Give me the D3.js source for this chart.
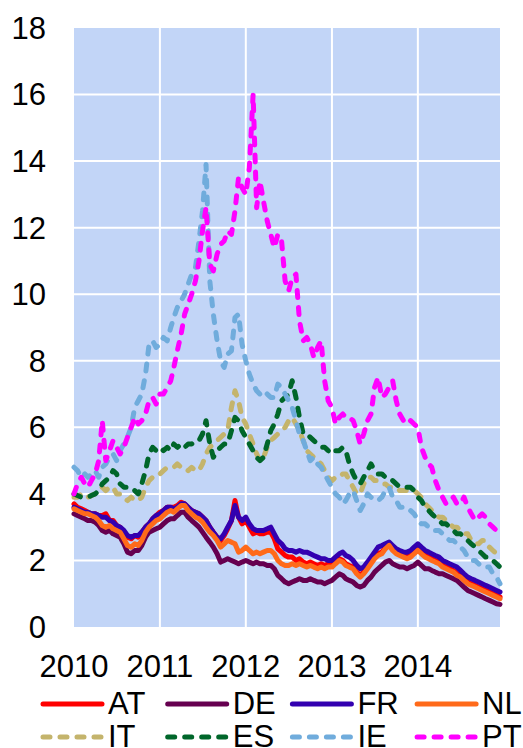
<!DOCTYPE html>
<meta charset="utf-8">
<style>
body { margin: 0; background: #fff; }
text { font-family: "Liberation Sans", Arial, sans-serif; font-size: 31px; fill: #000; }
.grid line { stroke: #fff; stroke-width: 2; }
.series { fill: none; stroke-width: 5; stroke-linejoin: round; stroke-linecap: round; }
</style>
<svg width="523" height="748"></svg>
<script src="https://d3js.org/d3.v7.min.js"></script>
<script>

// semi-monthly observation dates, 1st and 16th of each month, Jan 2010 .. Dec 2014
var dates = [];
for (var yr = 2010; yr <= 2014; yr++) {
  for (var mo = 0; mo < 12; mo++) {
    dates.push(new Date(yr, mo, 1));
    dates.push(new Date(yr, mo, 16));
  }
}

var countries = ["AT", "DE", "FR", "NL", "IT", "ES", "IE", "PT"];
var yearLabels = ["2010", "2011", "2012", "2013", "2014"];
var yTicks = [0, 2, 4, 6, 8, 10, 12, 14, 16, 18];

var AT = [3.7,3.6,3.55,3.5,3.45,3.4,3.4,3.35,3.35,3.4,3.2,3.2,3.05,3.0,2.85,2.7,2.65,2.75,2.7,2.85,
  3.0,3.1,3.25,3.35,3.45,3.5,3.6,3.6,3.6,3.65,3.75,3.7,3.6,3.5,3.45,3.4,3.3,3.2,3.0,2.85,
  2.7,2.6,2.75,2.95,3.2,3.8,3.3,3.1,3.2,3.0,2.8,2.85,2.8,2.8,2.85,2.85,2.65,2.35,2.25,2.15,
  2.1,2.1,2.0,2.05,1.95,1.9,1.95,1.9,1.85,1.9,1.85,1.9,1.85,1.95,2.05,2.0,1.9,1.85,1.8,1.65,
  1.55,1.65,1.8,1.95,2.1,2.2,2.25,2.4,2.5,2.35,2.25,2.2,2.15,2.1,2.15,2.25,2.35,2.25,2.15,2.1,
  2.05,2.0,1.95,1.85,1.8,1.75,1.7,1.6,1.55,1.45,1.35,1.3,1.25,1.2,1.15,1.1,1.05,1.0,0.95,0.9];

var DE = [3.4,3.35,3.3,3.25,3.2,3.2,3.15,3.05,2.9,2.85,2.9,2.8,2.75,2.7,2.5,2.25,2.2,2.3,2.3,2.45,
  2.7,2.85,2.9,2.95,3.0,3.1,3.2,3.25,3.25,3.35,3.45,3.45,3.3,3.2,3.1,3.0,2.85,2.7,2.55,2.4,
  2.2,1.95,2.0,2.05,2.0,1.95,1.9,1.95,2.0,1.95,1.9,1.95,1.9,1.9,1.85,1.85,1.75,1.55,1.45,1.35,
  1.3,1.35,1.4,1.45,1.4,1.4,1.45,1.4,1.35,1.35,1.3,1.35,1.4,1.5,1.6,1.55,1.45,1.4,1.35,1.25,
  1.2,1.25,1.4,1.5,1.65,1.75,1.85,1.95,2.0,1.9,1.85,1.8,1.8,1.75,1.8,1.85,1.95,1.85,1.75,1.75,
  1.7,1.65,1.6,1.6,1.55,1.5,1.45,1.4,1.3,1.2,1.1,1.05,1.0,0.95,0.9,0.85,0.8,0.75,0.7,0.68];

var FR = [3.6,3.55,3.5,3.45,3.45,3.4,3.4,3.35,3.3,3.3,3.2,3.15,3.05,3.0,2.9,2.75,2.7,2.75,2.75,2.85,
  3.0,3.1,3.25,3.35,3.4,3.5,3.6,3.6,3.55,3.6,3.7,3.7,3.6,3.5,3.45,3.4,3.3,3.2,3.0,2.85,
  2.7,2.65,2.8,3.0,3.2,3.65,3.3,3.2,3.3,3.1,2.95,2.9,2.9,2.9,2.95,3.0,2.8,2.6,2.5,2.35,
  2.3,2.3,2.25,2.3,2.25,2.25,2.2,2.15,2.1,2.05,2.05,2.0,2.0,2.1,2.2,2.25,2.15,2.1,2.0,1.85,
  1.75,1.8,1.95,2.1,2.25,2.4,2.45,2.5,2.55,2.45,2.35,2.3,2.25,2.25,2.3,2.4,2.5,2.4,2.3,2.25,
  2.2,2.15,2.1,2.0,1.95,1.9,1.85,1.8,1.7,1.6,1.5,1.45,1.4,1.35,1.3,1.25,1.2,1.15,1.1,1.05];

var NL = [3.55,3.5,3.45,3.4,3.4,3.35,3.3,3.2,3.05,3.0,3.05,2.95,2.9,2.85,2.65,2.45,2.4,2.5,2.45,2.6,
  2.85,3.0,3.1,3.2,3.25,3.35,3.45,3.5,3.45,3.55,3.65,3.65,3.5,3.4,3.3,3.25,3.15,3.0,2.85,2.75,
  2.6,2.4,2.5,2.6,2.55,2.5,2.25,2.3,2.4,2.3,2.2,2.25,2.2,2.25,2.3,2.3,2.2,2.0,1.9,1.85,
  1.85,1.9,1.85,1.9,1.85,1.8,1.85,1.8,1.75,1.8,1.75,1.8,1.8,1.9,2.0,1.95,1.85,1.8,1.75,1.6,
  1.5,1.6,1.75,1.9,2.05,2.15,2.2,2.35,2.45,2.3,2.2,2.15,2.1,2.05,2.1,2.2,2.3,2.2,2.1,2.05,
  2.0,1.95,1.9,1.8,1.75,1.7,1.65,1.55,1.5,1.4,1.3,1.25,1.2,1.15,1.1,1.05,1.0,0.95,0.9,0.85];

var IT = [3.9,3.9,4.0,3.9,3.9,3.95,4.0,4.1,4.2,4.1,4.2,4.2,4.0,4.0,3.9,3.8,3.9,3.8,3.8,3.9,
  4.2,4.4,4.5,4.6,4.6,4.7,4.8,4.8,4.8,4.9,4.8,4.8,4.7,4.8,4.7,4.7,4.9,5.2,5.4,5.5,
  5.6,5.7,5.8,5.9,6.6,7.1,6.8,6.3,6.1,5.8,5.5,5.2,5.0,5.1,5.4,5.6,5.7,5.8,5.9,6.0,
  6.2,6.3,6.1,5.9,5.6,5.3,5.2,5.1,5.0,4.9,4.7,4.5,4.4,4.5,4.5,4.6,4.6,4.4,4.2,4.0,
  4.0,4.3,4.5,4.5,4.4,4.4,4.3,4.3,4.2,4.2,4.2,4.1,4.1,4.1,4.1,4.1,4.0,3.9,3.7,3.6,
  3.5,3.4,3.3,3.3,3.2,3.1,3.0,3.0,2.9,2.8,2.8,2.6,2.5,2.5,2.6,2.6,2.4,2.3,2.2,2.1];

var ES = [4.0,3.95,3.9,3.9,3.9,3.95,4.0,4.1,4.3,4.4,4.5,4.7,4.6,4.3,4.2,4.2,4.1,4.1,4.0,4.3,
  4.7,5.2,5.4,5.3,5.4,5.3,5.4,5.3,5.5,5.4,5.5,5.4,5.5,5.5,5.6,5.6,5.8,6.2,5.5,5.1,
  5.3,5.4,5.5,5.5,5.9,6.3,6.2,5.9,5.7,5.5,5.3,5.1,5.0,5.1,5.5,5.9,6.1,6.4,6.8,6.9,
  7.0,7.4,6.9,6.3,5.8,5.8,5.7,5.6,5.5,5.4,5.4,5.3,5.2,5.3,5.3,5.4,5.3,4.9,4.6,4.4,
  4.3,4.5,4.7,4.9,4.7,4.6,4.6,4.5,4.5,4.4,4.3,4.2,4.2,4.2,4.2,4.1,3.9,3.8,3.6,3.5,
  3.4,3.3,3.2,3.1,3.1,3.0,2.9,2.8,2.8,2.7,2.6,2.5,2.4,2.3,2.2,2.1,2.1,2.0,1.9,1.8];

var IE = [4.8,4.7,4.5,4.6,4.5,4.6,4.7,4.5,4.8,4.9,5.1,5.2,5.0,5.3,5.5,5.7,6.0,6.6,6.8,7.0,
  7.6,8.5,8.6,8.4,8.5,8.7,8.6,9.0,9.3,9.6,9.8,10.0,10.3,10.6,10.8,11.6,12.5,13.9,10.4,9.4,
  8.6,8.0,7.8,8.2,8.3,9.3,9.4,8.5,8.0,7.6,7.3,7.1,7.0,7.1,7.0,6.9,6.9,7.3,7.2,7.0,
  6.8,6.6,6.2,5.8,5.6,5.3,5.0,5.1,4.9,4.8,4.6,4.4,4.2,4.0,3.9,3.7,3.8,4.0,4.1,3.8,
  3.5,3.7,4.0,3.9,3.8,3.8,3.9,4.1,4.2,3.9,3.8,3.6,3.6,3.5,3.5,3.4,3.2,3.1,3.1,3.0,
  3.0,2.9,2.9,2.8,2.7,2.6,2.6,2.5,2.4,2.3,2.1,2.0,2.0,1.9,1.8,1.8,1.8,1.6,1.5,1.3];

var PT = [4.0,4.3,4.5,4.3,4.2,4.4,4.6,5.0,6.2,5.0,5.3,5.6,5.4,5.2,5.4,5.7,6.0,6.3,6.1,6.2,
  6.4,6.8,6.9,6.7,7.0,7.0,7.2,7.4,7.8,8.3,8.8,9.4,9.7,10.0,10.4,11.0,11.9,12.6,10.9,10.7,
  11.2,11.5,11.6,11.9,11.8,12.5,13.5,13.2,13.0,13.8,16.0,12.6,13.4,12.8,12.2,11.8,11.4,11.8,11.6,10.4,
  10.1,10.5,10.6,9.2,8.6,8.7,8.5,8.1,8.4,8.6,7.4,6.8,6.6,6.1,6.3,6.4,6.3,6.3,6.2,5.9,
  5.5,5.8,6.2,6.4,7.2,7.5,6.9,7.0,7.2,7.4,6.8,6.4,6.2,6.1,6.2,6.1,6.0,5.4,5.1,4.9,
  4.8,4.4,4.1,3.9,3.7,3.8,3.9,3.7,3.7,3.9,3.6,3.4,3.2,3.3,3.4,3.3,3.1,3.0,2.9,2.7];

var seriesValues = [AT, DE, FR, NL, IT, ES, IE, PT];
var colors = ["#ff0000", "#660050", "#3300b0", "#ff6a1a", "#c4b46c", "#00662a", "#70acdc", "#ff00ff"];
var dashed = [false, false, false, false, true, true, true, true];

var svg = d3.select("svg");
var plotLeft = 74, plotRight = 500, plotTop = 28, plotBottom = 627;

var x = d3.scaleTime()
    .domain([dates[0], dates[dates.length - 1]])
    .range([plotLeft, plotRight]);

var y = d3.scaleLinear()
    .domain([0, 18])
    .range([plotBottom, plotTop]);

svg.append("rect")
    .attr("x", plotLeft).attr("y", plotTop)
    .attr("width", plotRight - plotLeft).attr("height", plotBottom - plotTop)
    .attr("fill", "#c2d5f7");

var grid = svg.append("g").attr("class", "grid");
grid.selectAll(".hg")
    .data(yTicks.filter(function(d) { return d > 0 && d < 18; }))
    .enter().append("line")
    .attr("x1", plotLeft).attr("x2", plotRight)
    .attr("y1", function(d) { return y(d); })
    .attr("y2", function(d) { return y(d); });
grid.selectAll(".vg")
    .data(yearLabels.slice(1))
    .enter().append("line")
    .attr("y1", plotTop).attr("y2", plotBottom)
    .attr("x1", function(d) { return x(new Date(+d, 0, 1)); })
    .attr("x2", function(d) { return x(new Date(+d, 0, 1)); });

svg.append("g").selectAll("text")
    .data(yTicks)
    .enter().append("text")
    .attr("x", 46)
    .attr("y", function(d) { return y(d); })
    .attr("dy", "0.35em")
    .attr("text-anchor", "end")
    .text(function(d) { return d; });

svg.append("g").selectAll("text")
    .data(yearLabels)
    .enter().append("text")
    .attr("x", function(d) { return x(new Date(+d, 0, 1)); })
    .attr("y", 677)
    .attr("text-anchor", "middle")
    .text(function(d) { return d; });

var line = d3.line()
    .x(function(d, i) { return x(dates[i]); })
    .y(function(d) { return y(d); });

svg.append("g").selectAll("path")
    .data(seriesValues)
    .enter().append("path")
    .attr("class", "series")
    .attr("stroke", function(d, i) { return colors[i]; })
    .attr("stroke-dasharray", function(d, i) { return dashed[i] ? "7,10" : null; })
    .attr("d", line);

// legend, two rows of four
var legend = svg.append("g").selectAll("g")
    .data(countries)
    .enter().append("g")
    .attr("transform", function(d, i) {
      return "translate(" + (43 + (i % 4) * 124.7) + "," + (i < 4 ? 704 : 737) + ")";
    });

legend.append("line")
    .attr("class", "series")
    .attr("x1", 0).attr("x2", 59)
    .attr("stroke", function(d, i) { return colors[i]; })
    .attr("stroke-dasharray", function(d, i) { return dashed[i] ? "7,10" : null; });

legend.append("text")
    .attr("x", 65)
    .attr("y", 10)
    .text(function(d) { return d; });

</script>
